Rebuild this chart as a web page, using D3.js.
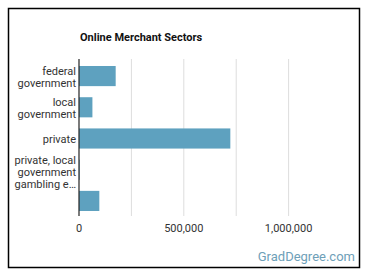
<!DOCTYPE html>
<html><head><meta charset="utf-8">
<script src="https://cdn.jsdelivr.net/npm/d3@7"></script>
<style>body{margin:0;background:#fff;}svg{display:block;font-family:Roboto,"Noto Sans",sans-serif;}</style>
</head><body>
<svg id="c" width="370" height="278"></svg>
<script>
const categories = ["federal government", "local government", "private", "private, local government gambling e\u2026", ""];
const values = [175000, 64000, 722000, 3000, 97000];
const xTicks = [0, 250000, 500000, 750000, 1000000, 1250000];
const xTickLabels = [0, 500000, 1000000];
const title = "Online Merchant Sectors";
const credit = "GradDegree.com";

const labelLines = [["federal", "government"], ["local", "government"], ["private"], ["private, local", "government", "gambling e\u2026"], [""]];

const svg = d3.select("#c");
svg.append("rect").attr("x", 8.5).attr("y", 8.5).attr("width", 351).attr("height", 259)
  .attr("fill", "#fff").attr("stroke", "#000").attr("stroke-width", 1.5);

const m = {left: 79, top: 61, right: 341, bottom: 216};
const x = d3.scaleLinear().domain([0, 1250000]).range([m.left, m.right]);
const y = d3.scaleBand().domain(d3.range(categories.length)).range([m.top, m.bottom]).paddingInner(0.355).paddingOuter(0.16);

svg.append("text").attr("x", 80).attr("y", 41).attr("font-size", 11).attr("font-weight", "bold").attr("fill", "#111").text(title);

svg.append("g").selectAll("line").data(xTicks.slice(1, 5)).join("line")
  .attr("x1", d => x(d)).attr("x2", d => x(d)).attr("y1", m.top - 2).attr("y2", m.bottom)
  .attr("stroke", "#ddd").attr("stroke-width", 1);

svg.append("g").selectAll("rect").data(values).join("rect")
  .attr("x", x(0)).attr("y", (d, i) => y(i)).attr("width", d => x(d) - x(0)).attr("height", y.bandwidth())
  .attr("fill", "#5ea1bf");

svg.append("line").attr("x1", m.left).attr("x2", m.left).attr("y1", m.top - 2).attr("y2", m.bottom)
  .attr("stroke", "#222").attr("stroke-width", 1.2);

const lg = svg.append("g");
labelLines.forEach((lines, i) => {
  const cy = y(i) + y.bandwidth() / 2 + (lines.length === 3 ? 2.5 : 1);
  const lh = 11.8;
  lines.forEach((t, j) => {
    lg.append("text").attr("x", 76).attr("y", cy + (j - (lines.length - 1) / 2) * lh)
      .attr("dy", "0.35em").attr("text-anchor", "end").attr("font-size", 11).attr("fill", "#333").text(t);
  });
});

const fmt = d3.format(",");
svg.append("g").selectAll("text").data(xTickLabels).join("text")
  .attr("x", d => x(d)).attr("y", 228).attr("dy", "0.35em").attr("text-anchor", "middle")
  .attr("font-size", 11).attr("fill", "#333").text(d => fmt(d));

svg.append("text").attr("x", 355).attr("y", 256).attr("dy", "0.35em").attr("text-anchor", "end")
  .attr("font-size", 13).attr("fill", "#6ea0b8").text(credit);
</script>
</body></html>
